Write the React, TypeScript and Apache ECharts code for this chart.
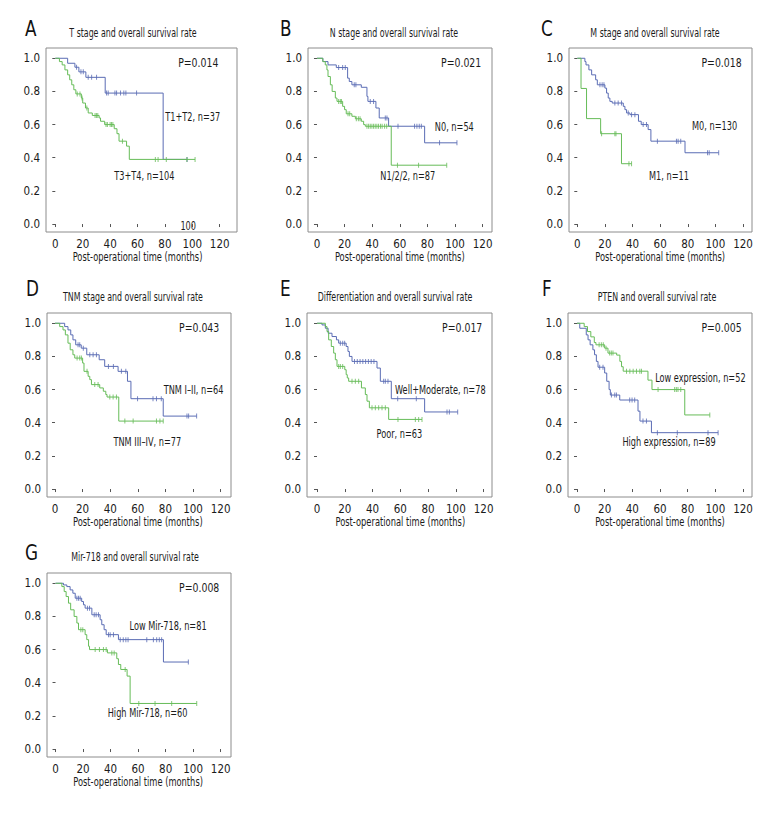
import React, { useEffect, useRef } from "react";
import * as echarts from "echarts";

const FONT = "'Liberation Sans Narrow', 'DejaVu Sans Condensed', 'Arial Narrow', sans-serif";
const BLUE = "#5a6cb4";
const GREEN = "#66bc58";
const TEXT = "#1b1b1b";
const FRAME = "#8c8c8c";

const xTicks = [0, 20, 40, 60, 80, 100, 120];
const yTicks = [0, 0.2, 0.4, 0.6, 0.8, 1.0];
const xName = "Post-operational time (months)";

// ---- Panel A: T stage ----
const aT12Steps = [[9, 0.97], [14.3, 0.946], [17.2, 0.918], [22.3, 0.885], [36.4, 0.79], [78.7, 0.39]];
const aT12Censor = [15.5, 18.7, 20.4, 24, 26.5, 30.1, 37.4, 38.6, 43.5, 44.7, 47.6, 50, 51.5, 59.3, 96.2];
const aT34Steps = [[3, 0.98], [5, 0.96], [7, 0.93], [9, 0.9], [10.5, 0.87], [12, 0.84], [13.5, 0.81], [15, 0.785], [19, 0.76], [20, 0.73], [22, 0.7], [24, 0.67], [27, 0.655], [32, 0.64], [33, 0.62], [36, 0.6], [43, 0.575], [45, 0.545], [46.5, 0.5], [52, 0.47], [54, 0.39]];
const aT34Censor = [16, 18, 19.5, 23, 29, 30, 31, 37, 38, 40, 41, 42, 49, 73, 75, 81, 96, 102];

// ---- Panel B: N stage ----
const bN0Steps = [[4.3, 0.98], [8, 0.96], [14, 0.944], [22.2, 0.88], [23.4, 0.86], [25.3, 0.84], [32.1, 0.825], [36.2, 0.77], [36.9, 0.74], [42.7, 0.7], [45.1, 0.64], [51.9, 0.59], [78, 0.49]];
const bN0Censor = [15.7, 18.6, 20.5, 27, 28.2, 38.6, 41, 49.5, 50.7, 58.7, 70.7, 72.4, 74.1, 75.6, 88.8, 101.4];
const bN1Steps = [[4.2, 0.98], [6, 0.96], [7.2, 0.93], [8, 0.89], [9.7, 0.84], [11, 0.8], [13.3, 0.76], [14.5, 0.74], [18.6, 0.71], [20, 0.69], [21.2, 0.665], [25.3, 0.65], [27.8, 0.635], [32.1, 0.62], [33.8, 0.6], [35, 0.59], [53.8, 0.355]];
const bN1Censor = [15.7, 16.9, 17.7, 22.5, 23.7, 28.5, 30, 31.2, 36.2, 37.4, 38.6, 39.8, 41, 42.2, 43.4, 44.6, 46, 47.2, 49, 50.5, 58.3, 73.6, 94];

// ---- Panel C: M stage ----
const cM0Steps = [[5.5, 0.98], [6.3, 0.96], [8.4, 0.93], [10.4, 0.9], [13.3, 0.87], [14.5, 0.84], [20, 0.82], [21.2, 0.79], [22.4, 0.76], [23.6, 0.74], [25.3, 0.73], [33.3, 0.71], [34.5, 0.69], [35.7, 0.67], [38.1, 0.66], [44.3, 0.62], [46.3, 0.6], [51.3, 0.57], [53.3, 0.5], [78, 0.43]];
const cM0Censor = [16.4, 18, 19.3, 27.2, 29.6, 32, 36.9, 39.3, 41.7, 47.7, 50.1, 58, 71.8, 73, 74.9, 94.3, 95.5, 102.4];
const cM1Steps = [[2.7, 0.818], [6.7, 0.636], [16.9, 0.545], [32, 0.364]];
const cM1Censor = [17.6, 27.2, 28, 37.4, 39.3];

// ---- Panel D: TNM stage ----
const dLowSteps = [[7, 0.98], [9.4, 0.96], [11.4, 0.93], [13, 0.9], [15, 0.87], [19, 0.85], [23, 0.81], [32, 0.78], [36, 0.74], [45.7, 0.71], [52.5, 0.65], [55, 0.545], [78.4, 0.44]];
const dLowCensor = [16.7, 17.9, 20.5, 25.2, 27.6, 30, 38.7, 42.3, 48.1, 51.3, 59.8, 71, 73.5, 77, 95.6, 96.8, 102.6];
const dHighSteps = [[3.4, 0.98], [5.8, 0.96], [7.5, 0.93], [9.4, 0.88], [11, 0.84], [13, 0.81], [14.3, 0.79], [20, 0.76], [21, 0.71], [24, 0.68], [25.2, 0.66], [26.4, 0.63], [32.4, 0.61], [35, 0.59], [36.8, 0.57], [37.7, 0.555], [46.2, 0.41]];
const dHighCensor = [16, 17.9, 19.1, 23.2, 28.8, 31.2, 39.7, 42.1, 44.5, 50.6, 56.6, 73.5, 76, 78.4];

// ---- Panel E: Differentiation ----
const eWellSteps = [[3.6, 0.99], [6, 0.97], [8, 0.94], [10.8, 0.92], [14, 0.9], [15.6, 0.88], [21, 0.86], [22.3, 0.83], [23.3, 0.8], [25.2, 0.77], [43.2, 0.73], [45.6, 0.65], [53.5, 0.545], [77.5, 0.465]];
const eWellCensor = [16.8, 18.5, 19.9, 27, 29, 31, 33, 35, 37, 39, 41, 48, 49.2, 51.1, 58.1, 71.5, 93.6, 95.3, 101.3];
const ePoorSteps = [[6, 0.98], [7.2, 0.95], [8.4, 0.9], [10.3, 0.86], [12, 0.82], [13.2, 0.78], [14.4, 0.74], [20, 0.72], [21, 0.69], [21.8, 0.67], [22.8, 0.65], [32, 0.61], [34.8, 0.57], [36, 0.53], [37.7, 0.49], [51.6, 0.42]];
const ePoorCensor = [15.6, 16.8, 18.5, 25.2, 27.6, 30, 39.6, 42, 44.4, 46.8, 49.2, 58.3, 70.8, 73.2, 75.6];

// ---- Panel F: PTEN ----
const fLowSteps = [[5.2, 0.98], [7.6, 0.95], [10, 0.918], [12.5, 0.884], [13.7, 0.87], [20, 0.85], [22.4, 0.82], [28.7, 0.808], [31, 0.77], [32.2, 0.738], [33.4, 0.711], [51.3, 0.657], [54.2, 0.6], [77.9, 0.447]];
const fLowCensor = [16, 17.6, 19, 21, 23.6, 24.8, 26, 35.8, 38.2, 40.6, 43, 45.4, 46.6, 58.6, 70.6, 71.8, 73, 75, 96];
const fHighSteps = [[2, 0.97], [6.7, 0.93], [8, 0.9], [9.5, 0.87], [11.5, 0.84], [12.7, 0.81], [14, 0.77], [15.2, 0.735], [20, 0.7], [21.5, 0.65], [23.2, 0.6], [24.1, 0.567], [30.9, 0.537], [44.1, 0.47], [45.5, 0.41], [53.8, 0.34]];
const fHighCensor = [16.4, 18.8, 24.9, 27.3, 28.5, 38.1, 39.8, 41.7, 47.7, 50.2, 58.1, 72.5, 94.7, 102];

// ---- Panel G: Mir-718 ----
const gLowSteps = [[5.8, 0.99], [8.2, 0.98], [10.6, 0.96], [12.6, 0.94], [14.3, 0.91], [19, 0.89], [20.3, 0.87], [21.5, 0.85], [26.4, 0.81], [32.4, 0.78], [33.6, 0.75], [35.3, 0.72], [36.8, 0.69], [45.7, 0.66], [78.4, 0.525]];
const gLowCensor = [15.5, 16.7, 17.9, 23.2, 24.7, 28.1, 29.5, 31.2, 38.5, 39.7, 42.1, 47, 49.2, 51.1, 52.7, 66.3, 71.1, 73.5, 75.4, 77.1, 96.5];
const gHighSteps = [[4.6, 0.98], [6.3, 0.95], [7.7, 0.92], [9.4, 0.88], [11, 0.84], [13.5, 0.8], [15.5, 0.76], [16.7, 0.72], [21.5, 0.69], [22.7, 0.66], [24, 0.62], [24.7, 0.6], [37.7, 0.58], [44.5, 0.545], [45.7, 0.51], [47.4, 0.48], [52, 0.44], [54.2, 0.275]];
const gHighCensor = [18.4, 19.8, 28.8, 31.9, 34.8, 36.8, 40.9, 42.6, 50.6, 60.5, 72.3, 84.4, 102.6];

// ---- Layout (positions and styles only) ----
type Label = { text: string; x: number; y: number };
type Panel = {
  letter: string; title: string; pValue: string;
  box: number[]; xr: number[]; yr: number[];
  letterPos: number[]; titlePos: number[];
  curves: { steps: number[][]; censor: number[]; color: string }[];
  labels: Label[];
};

const YR = [-0.048, 1.062];

const panels: Panel[] = [
  {
    letter: "A", title: "T stage and overall survival rate", pValue: "P=0.014",
    box: [46, 48, 191, 184], xr: [-6.8, 132.6], yr: YR, letterPos: [25, 28], titlePos: [133, 33],
    curves: [
      { steps: aT12Steps, censor: aT12Censor, color: BLUE },
      { steps: aT34Steps, censor: aT34Censor, color: GREEN },
    ],
    labels: [
      { text: "T1+T2, n=37", x: 100.3, y: 0.644 },
      { text: "T3+T4, n=104", x: 65, y: 0.29 },
      { text: "100", x: 97, y: -0.012 },
    ],
  },
  {
    letter: "B", title: "N stage and overall survival rate", pValue: "P=0.021",
    box: [308, 48, 184, 184], xr: [-6.5, 126.8], yr: YR, letterPos: [280, 28], titlePos: [394, 33],
    curves: [
      { steps: bN0Steps, censor: bN0Censor, color: BLUE },
      { steps: bN1Steps, censor: bN1Censor, color: GREEN },
    ],
    labels: [
      { text: "N0, n=54", x: 99.5, y: 0.587 },
      { text: "N1/2/2, n=87", x: 65.8, y: 0.29 },
    ],
  },
  {
    letter: "C", title: "M stage and overall survival rate", pValue: "P=0.018",
    box: [569, 48, 183, 184], xr: [-6.0, 126.5], yr: YR, letterPos: [541, 28], titlePos: [655, 33],
    curves: [
      { steps: cM0Steps, censor: cM0Censor, color: BLUE },
      { steps: cM1Steps, censor: cM1Censor, color: GREEN },
    ],
    labels: [
      { text: "M0, n=130", x: 99.4, y: 0.59 },
      { text: "M1, n=11", x: 66.4, y: 0.29 },
    ],
  },
  {
    letter: "D", title: "TNM stage and overall survival rate", pValue: "P=0.043",
    box: [47, 313, 184, 184], xr: [-5.8, 127.5], yr: YR, letterPos: [26, 288], titlePos: [133, 297],
    curves: [
      { steps: dLowSteps, censor: dLowCensor, color: BLUE },
      { steps: dHighSteps, censor: dHighCensor, color: GREEN },
    ],
    labels: [
      { text: "TNM I\u2013II, n=64", x: 100.4, y: 0.6 },
      { text: "TNM III\u2013IV, n=77", x: 66.9, y: 0.284 },
    ],
  },
  {
    letter: "E", title: "Differentiation and overall survival rate", pValue: "P=0.017",
    box: [307, 313, 185, 184], xr: [-7.2, 126], yr: YR, letterPos: [280, 288], titlePos: [395, 297],
    curves: [
      { steps: eWellSteps, censor: eWellCensor, color: BLUE },
      { steps: ePoorSteps, censor: ePoorCensor, color: GREEN },
    ],
    labels: [
      { text: "Well+Moderate, n=78", x: 88.8, y: 0.6 },
      { text: "Poor, n=63", x: 59.3, y: 0.335 },
    ],
  },
  {
    letter: "F", title: "PTEN and overall survival rate", pValue: "P=0.005",
    box: [568, 313, 184, 184], xr: [-6.5, 126.5], yr: YR, letterPos: [542, 288], titlePos: [657, 297],
    curves: [
      { steps: fHighSteps, censor: fHighCensor, color: BLUE },
      { steps: fLowSteps, censor: fLowCensor, color: GREEN },
    ],
    labels: [
      { text: "Low expression, n=52", x: 89.2, y: 0.672 },
      { text: "High expression, n=89", x: 66.5, y: 0.284 },
    ],
  },
  {
    letter: "G", title: "Mir-718 and overall survival rate", pValue: "P=0.008",
    box: [47, 573, 184, 184], xr: [-6.2, 127.5], yr: YR, letterPos: [25, 552], titlePos: [135, 557],
    curves: [
      { steps: gLowSteps, censor: gLowCensor, color: BLUE },
      { steps: gHighSteps, censor: gHighCensor, color: GREEN },
    ],
    labels: [
      { text: "Low Mir-718, n=81", x: 81.8, y: 0.74 },
      { text: "High Mir-718, n=60", x: 66.9, y: 0.215 },
    ],
  },
];

function survivalAt(steps: number[][], t: number): number {
  let s = 1;
  for (const [ti, si] of steps) if (ti <= t) s = si;
  return s;
}

function lineData(steps: number[][], censor: number[]): number[][] {
  const last = steps[steps.length - 1];
  const end = Math.max(last[0], ...censor);
  return [[0, 1], ...steps, [end, last[1]]];
}

function txt(x: number, y: number, text: string, size: number, sx: number, align = "center") {
  return {
    type: "text", x, y, scaleX: sx, scaleY: 1,
    style: { text, font: `${size}px ${FONT}`, fill: TEXT, align, verticalAlign: "middle" },
  };
}

function buildOption() {
  const grid: any[] = [];
  const xAxis: any[] = [];
  const yAxis: any[] = [];
  const series: any[] = [];
  const graphic: any[] = [];

  panels.forEach((p, i) => {
    const [left, top, width, height] = p.box;
    const px = (t: number) => left + ((t - p.xr[0]) / (p.xr[1] - p.xr[0])) * width;
    const py = (v: number) => top + ((p.yr[1] - v) / (p.yr[1] - p.yr[0])) * height;

    grid.push({ left, top, width, height, show: true, borderColor: FRAME, borderWidth: 1, backgroundColor: "transparent" });
    xAxis.push({
      type: "value", gridIndex: i, min: p.xr[0], max: p.xr[1],
      splitLine: { show: false },
      axisLine: { show: false },
      axisTick: { show: true, customValues: xTicks, length: 3, lineStyle: { color: "#555", width: 1 } },
      axisLabel: { customValues: xTicks, margin: 6, color: TEXT, fontFamily: FONT, fontSize: 11.5 },
    });
    yAxis.push({
      type: "value", gridIndex: i, min: p.yr[0], max: p.yr[1],
      splitLine: { show: false },
      axisLine: { show: false },
      axisTick: { show: true, customValues: yTicks, length: 3, lineStyle: { color: "#555", width: 1 } },
      axisLabel: {
        customValues: yTicks, margin: 6, color: TEXT, fontFamily: FONT, fontSize: 11.5,
        formatter: (v: number) => v.toFixed(1),
      },
    });

    p.curves.forEach((c) => {
      series.push({
        type: "line", xAxisIndex: i, yAxisIndex: i, step: "end",
        data: lineData(c.steps, c.censor), showSymbol: false, symbol: "none",
        lineStyle: { color: c.color, width: 1 }, silent: true,
      });
      series.push({
        type: "scatter", xAxisIndex: i, yAxisIndex: i,
        data: c.censor.map((t) => [t, survivalAt(c.steps, t)]),
        symbol: "rect", symbolSize: [1, 5],
        itemStyle: { color: c.color }, silent: true,
      });
    });

    graphic.push({
      type: "text", x: p.letterPos[0], y: p.letterPos[1], scaleX: 0.85,
      style: { text: p.letter, font: `22px ${FONT}`, fill: "#111", align: "left", verticalAlign: "middle" },
    });
    graphic.push(txt(p.titlePos[0], p.titlePos[1], p.title, 12.5, 0.7));
    graphic.push(txt(px(119), py(0.975), p.pValue, 13, 0.8, "right"));
    p.labels.forEach((l) => graphic.push(txt(px(l.x), py(l.y), l.text, 13, 0.7)));
    graphic.push(txt(px(60), top + height + 25, xName, 12.5, 0.74));
  });

  return { animation: false, backgroundColor: "#ffffff", grid, xAxis, yAxis, series, graphic };
}

export default function App() {
  const ref = useRef<HTMLDivElement>(null);
  useEffect(() => {
    if (!ref.current) return;
    const chart = echarts.init(ref.current, undefined, { renderer: "svg" });
    chart.setOption(buildOption() as any);
    return () => chart.dispose();
  }, []);
  return (
    <div
      ref={ref}
      style={{ position: "absolute", left: 0, top: 0, width: 780, height: 816, background: "#fff" }}
    />
  );
}
